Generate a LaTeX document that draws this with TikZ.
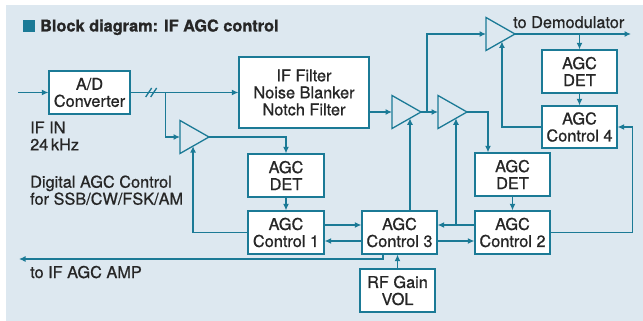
\documentclass[tikz,border=0pt]{standalone}
\usepackage{fontspec}
\setmainfont{TeX Gyre Heros}[FakeBold=0.8, BoldFeatures={FakeBold=1.1}]
\usetikzlibrary{shapes, positioning, arrows.meta, calc}

\definecolor{agcline}{HTML}{1B7A96}
\definecolor{agcback}{HTML}{DDE8F0}
\definecolor{agctext}{HTML}{262626}

\begin{document}
\begin{tikzpicture}[
      x=1pt, y=-1pt,
      every node/.style={font=\fontsize{16.3pt}{17pt}\selectfont, text=agctext},
      block/.style={draw=agcline, fill=white, line width=1.3pt, align=center,
        minimum width=76pt, minimum height=43pt, inner sep=0pt},
      amp/.style={draw=agcline, line width=1.3pt, isosceles triangle,
        isosceles triangle stretches, minimum width=33pt, minimum height=29pt,
        inner sep=0pt, outer sep=0pt, anchor=apex},
      sig/.style={draw=agcline, line width=1.3pt, -{Latex[length=6.5pt,width=6pt]}},
      wire/.style={draw=agcline, line width=1.3pt},
      note/.style={align=left, inner sep=0pt}
    ]
    \useasboundingbox (0,0) rectangle (643,321);
    \fill[agcback] (6,5) rectangle (643,321);

    % title
    \fill[agcline] (23,20) rectangle (35,32);
    \node[note, anchor=base west, font=\fontsize{16.3pt}{17pt}\selectfont\bfseries]
      (title) at (40,31.5) {Block diagram: IF AGC control};

    % blocks
    \node[block, minimum width=81pt] (adc) at (89.5,92.5) {A/D\\Converter};
    \node[block, minimum width=130pt, minimum height=71pt] (filt) at (304,92.5)
      {IF Filter\\Noise Blanker\\Notch Filter};
    \node[block] (det1) at (286,175.5) {AGC\\DET};
    \node[block] (ctl1) at (286,232.5) {AGC\\Control 1};
    \node[block, minimum width=75pt] (ctl3) at (399.5,232.5) {AGC\\Control 3};
    \node[block, minimum width=75pt] (ctl2) at (512.5,232.5) {AGC\\Control 2};
    \node[block, minimum width=75pt] (det2) at (512.5,174.5) {AGC\\DET};
    \node[block, minimum width=75pt] (det4) at (579.5,71.5) {AGC\\DET};
    \node[block, minimum width=75pt, minimum height=42pt] (ctl4) at (579.5,127)
      {AGC\\Control 4};
    \node[block, minimum width=75pt] (rf) at (397.5,290.5) {RF Gain\\VOL};

    % amplifiers
    \node[amp] (a1) at (209,137) {};
    \node[amp] (a2) at (421,112) {};
    \node[amp] (a3) at (467,112) {};
    \node[amp] (a4) at (515,34) {};
    \coordinate (a1b) at ($(a1.apex)!0.55!(a1.right corner)$);
    \coordinate (a2b) at ($(a2.apex)!0.38!(a2.right corner)$);
    \coordinate (a3b) at ($(a3.apex)!0.38!(a3.right corner)$);
    \coordinate (a4b) at ($(a4.apex)!0.45!(a4.right corner)$);

    % texts
    \node[note, anchor=north west] (ifin) at (30,121.3) {IF IN\\24\,kHz};
    \node[note, anchor=north west] (mode) at (30,175.3)
      {Digital AGC Control\\for SSB/CW/FSK/AM};
    \node[note, anchor=base west] (agcamp) at (30,278) {to IF AGC AMP};
    \node[note, anchor=base west] (demodtxt) at (513,28) {to Demodulator};
    \coordinate (inp) at (18,92.5);
    \coordinate (demod) at (631,34);
    \coordinate (agcout) at (19,259);

    % signal path
    \draw[sig] (inp) -- (adc.west);
    \draw[sig] (adc.east) -- (filt.west);
    \draw[wire] ([xshift=15pt,yshift=-4.5pt]adc.east) -- ++(6,-9)
                ([xshift=20pt,yshift=-4.5pt]adc.east) -- ++(6,-9);
    \draw[sig] ([xshift=35pt]adc.east) |- (a1.lower side);
    \draw[sig] (a1.apex) -| (det1.north);
    \draw[sig] (filt.east |- a2.lower side) -- (a2.lower side);
    \draw[sig] (a2.apex) -- (a3.lower side);
    \draw[sig] ([xshift=6pt]a2.apex) |- (a4.lower side);
    \draw[sig] (a3.apex) -| ([xshift=-24.5pt]det2.north);
    \draw[sig] (a4.apex) -- (demod);
    \draw[sig] (a4.apex -| det4.north) -- (det4.north);

    % control loops
    \draw[sig] (det1.south) -- (ctl1.north);
    \draw[sig] (det2.south) -- (ctl2.north);
    \draw[sig] (det4.south) -- (ctl4.north);
    \draw[sig] (ctl1.west) -| (a1b);
    \draw[sig] (ctl4.west) -| (a4b);
    \draw[sig] (ctl3.north -| a2b) -- (a2b);
    \draw[sig] ([yshift=7.5pt]ctl2.west -| a3b) -- (a3b);
    \draw[sig] ([yshift=7.5pt]ctl1.east) -- ([yshift=7.5pt]ctl3.west);
    \draw[sig] ([yshift=-8.5pt]ctl3.west) -- ([yshift=-8.5pt]ctl1.east);
    \draw[sig] ([yshift=-8.5pt]ctl3.east) -- ([yshift=-8.5pt]ctl2.west);
    \draw[sig] ([yshift=7.5pt]ctl2.west) -- ([yshift=7.5pt]ctl3.east);
    \draw[sig] (ctl2.east) -| ([xshift=15pt]ctl4.east) -- (ctl4.east);
    \draw[sig] (rf.north) -- (rf.north |- ctl3.south);
    \draw[sig] ([xshift=-16.5pt]ctl3.south) |- (agcout);
\end{tikzpicture}
\end{document}
